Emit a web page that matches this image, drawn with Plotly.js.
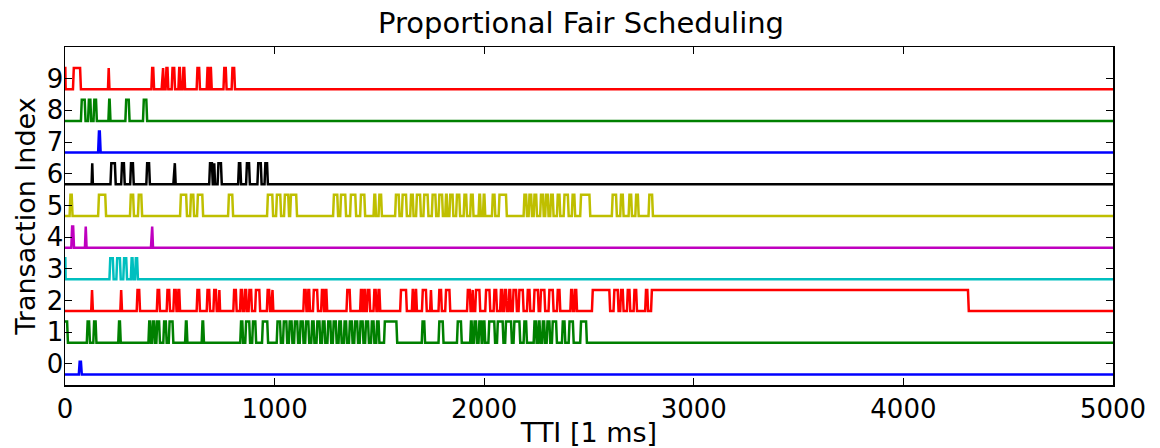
<!DOCTYPE html>
<html>
<head>
<meta charset="utf-8">
<script src="https://cdn.plot.ly/plotly-3.0.1.min.js"></script>
<style>html,body{margin:0;padding:0;background:#fff}#chart{width:1160px;height:448px}</style>
</head>
<body>
<div id="chart"></div>
<script>
// ---- Data: transmission bursts per transaction index, [startTTI, endTTI] (optional 3rd = relative height) ----
const transactionIndex = [0, 1, 2, 3, 4, 5, 6, 7, 8, 9];
const xTickVals = [0, 1000, 2000, 3000, 4000, 5000];
const yTickVals = [0, 1, 2, 3, 4, 5, 6, 7, 8, 9];

const ue0Bursts = [[66, 80, 0.6]];
const ue1Bursts = [[0, 14], [104, 119], [135, 150], [254, 266], [398, 410], [416, 430], [436, 453],
  [469, 485], [495, 517], [573, 584], [652, 663], [836, 850], [860, 883], [893, 912], [940, 969],
  [1010, 1030], [1040, 1060], [1068, 1085], [1093, 1112], [1120, 1138], [1146, 1165], [1175, 1190],
  [1200, 1218], [1226, 1242], [1252, 1270], [1278, 1296], [1305, 1320], [1330, 1345], [1355, 1372],
  [1380, 1398], [1406, 1424], [1432, 1450], [1460, 1476], [1485, 1500], [1522, 1585],
  [1702, 1718], [1782, 1806], [1870, 1893], [1933, 1944], [1950, 1965], [1973, 1988], [1992, 2005],
  [2020, 2052], [2061, 2092], [2100, 2132], [2140, 2172], [2188, 2204], [2236, 2250], [2256, 2268],
  [2276, 2290], [2298, 2315], [2323, 2347], [2371, 2387], [2403, 2427], [2458, 2490]];
const ue2Bursts = [[125, 133], [264, 272], [342, 358], [438, 453], [485, 501], [517, 532], [537, 549],
  [628, 644], [676, 692], [708, 724], [733, 740], [803, 819], [835, 848], [855, 868], [876, 892],
  [907, 931], [963, 978], [983, 994], [1137, 1152], [1157, 1169], [1183, 1207], [1222, 1236],
  [1240, 1251], [1343, 1362], [1408, 1420], [1424, 1434], [1440, 1456], [1472, 1486], [1492, 1504],
  [1599, 1631], [1655, 1665], [1670, 1679], [1703, 1726], [1742, 1750], [1782, 1798], [1814, 1838],
  [1918, 1935], [1940, 1949], [1957, 1981], [2005, 2029], [2045, 2061], [2076, 2088], [2094, 2108],
  [2116, 2128], [2136, 2156], [2164, 2188], [2204, 2220], [2236, 2260], [2267, 2291], [2307, 2331],
  [2347, 2363], [2411, 2424], [2430, 2443], [2514, 2601], [2617, 2641], [2649, 2665], [2681, 2697],
  [2713, 2729], [2768, 2782], [2796, 4312]];
const ue3Bursts = [[0, 3], [212, 232], [245, 266], [278, 296], [314, 326], [334, 348]];
const ue4Bursts = [[30, 43], [95, 103], [410, 420]];
const ue5Bursts = [[22, 36], [158, 196], [310, 329], [348, 368], [549, 582], [597, 616], [630, 659],
  [778, 802], [964, 993], [1007, 1031], [1045, 1069], [1074, 1107], [1279, 1303], [1313, 1341],
  [1360, 1389], [1408, 1432], [1472, 1484], [1496, 1512], [1575, 1596], [1607, 1631], [1647, 1663],
  [1675, 1698], [1710, 1734], [1750, 1771], [1782, 1803], [1814, 1825], [1834, 1853], [1866, 1885],
  [1902, 1918], [1933, 1949], [1973, 1984], [1994, 2005], [2037, 2053], [2069, 2108], [2188, 2204],
  [2212, 2228], [2236, 2252], [2267, 2284], [2291, 2307], [2315, 2331], [2347, 2363], [2379, 2403],
  [2418, 2434], [2458, 2506], [2609, 2633], [2649, 2665], [2689, 2705], [2721, 2737], [2784, 2805]];
const ue6Bursts = [[127, 133], [217, 242], [268, 285], [311, 328], [388, 405], [517, 528], [688, 705],
  [708, 716], [728, 748], [826, 840], [864, 882], [918, 938], [952, 968]];
const ue7Bursts = [[158, 170]];
const ue8Bursts = [[76, 98], [110, 125], [136, 152], [207, 217], [288, 308], [372, 392]];
const ue9Bursts = [[0, 3], [38, 76], [205, 212], [412, 425], [461, 472], [480, 493], [509, 525],
  [541, 552], [561, 573], [628, 644], [676, 686], [690, 700], [756, 771], [795, 811]];

const allBursts = [ue0Bursts, ue1Bursts, ue2Bursts, ue3Bursts, ue4Bursts,
                   ue5Bursts, ue6Bursts, ue7Bursts, ue8Bursts, ue9Bursts];

// ---- Styles ----
const lineColors = ['#0000ff', '#008000', '#ff0000', '#00bfbf', '#bf00bf',
                    '#bfbf00', '#000000', '#0000ff', '#008000', '#ff0000'];
const FONT = 'DejaVu Sans, Liberation Sans, sans-serif';
const HALF = 1 / 3;   // offset of the low/high levels around each index
const RAMP = 4;       // TTI slope of each edge
const X_END = 5000;

function buildSeries(idx, bursts) {
  const lo = idx - HALF, hi = idx + HALF;
  const xs = [], ys = [];
  let started = false;
  bursts.forEach(b => {
    const s = b[0], e = b[1], h = (b.length > 2 ? b[2] : 1);
    const top = lo + (hi - lo) * h;
    const r = Math.min(RAMP, (e - s) / 2);
    if (!started) {
      started = true;
      if (s <= 0) { xs.push(0, Math.max(e - r, 0), e); ys.push(top, top, lo); return; }
      xs.push(0); ys.push(lo);
    }
    xs.push(s, s + r, e - r, e);
    ys.push(lo, top, top, lo);
  });
  if (!started) { xs.push(0); ys.push(lo); }
  xs.push(X_END); ys.push(lo);
  return xs.map((x, k) => [x, ys[k]]);
}

const traces = transactionIndex.map((idx, k) => {
  const pts = buildSeries(idx, allBursts[k]);
  return {
    type: 'scatter', mode: 'lines',
    x: pts.map(p => p[0]), y: pts.map(p => p[1]),
    line: { color: lineColors[k], width: 2.5 },
    hoverinfo: 'skip', showlegend: false
  };
});

const axisCommon = {
  showline: true, linecolor: '#000', linewidth: 1.5, mirror: 'ticks',
  ticks: 'inside', ticklen: 7, tickwidth: 1, tickcolor: '#000',
  showgrid: false, zeroline: false,
  tickfont: { family: FONT, size: 26, color: '#000' }
};

const layout = {
  width: 1160, height: 448,
  margin: { l: 65, r: 47, t: 47, b: 63 },
  paper_bgcolor: '#fff', plot_bgcolor: '#fff',
  font: { family: FONT, color: '#000' },
  title: { text: 'Proportional Fair Scheduling', font: { family: FONT, size: 29, color: '#000' },
           x: 0.5009, xref: 'container', xanchor: 'center', y: 0.949, yref: 'container', yanchor: 'middle' },
  xaxis: Object.assign({}, axisCommon, {
    range: [0, 5000], tickmode: 'array', tickvals: xTickVals, ticktext: xTickVals.map(String),
    title: { text: 'TTI [1 ms]', font: { family: FONT, size: 27, color: '#000' }, standoff: 8 }
  }),
  yaxis: Object.assign({}, axisCommon, {
    range: [-0.667, 10], tickmode: 'array', tickvals: yTickVals, ticktext: yTickVals.map(String),
    ticklabelstandoff: -5,
    title: { text: 'Transaction Index', font: { family: FONT, size: 27, color: '#000' }, standoff: 3 }
  })
};

Plotly.newPlot('chart', traces, layout, { staticPlot: true, displayModeBar: false });
</script>
</body>
</html>
